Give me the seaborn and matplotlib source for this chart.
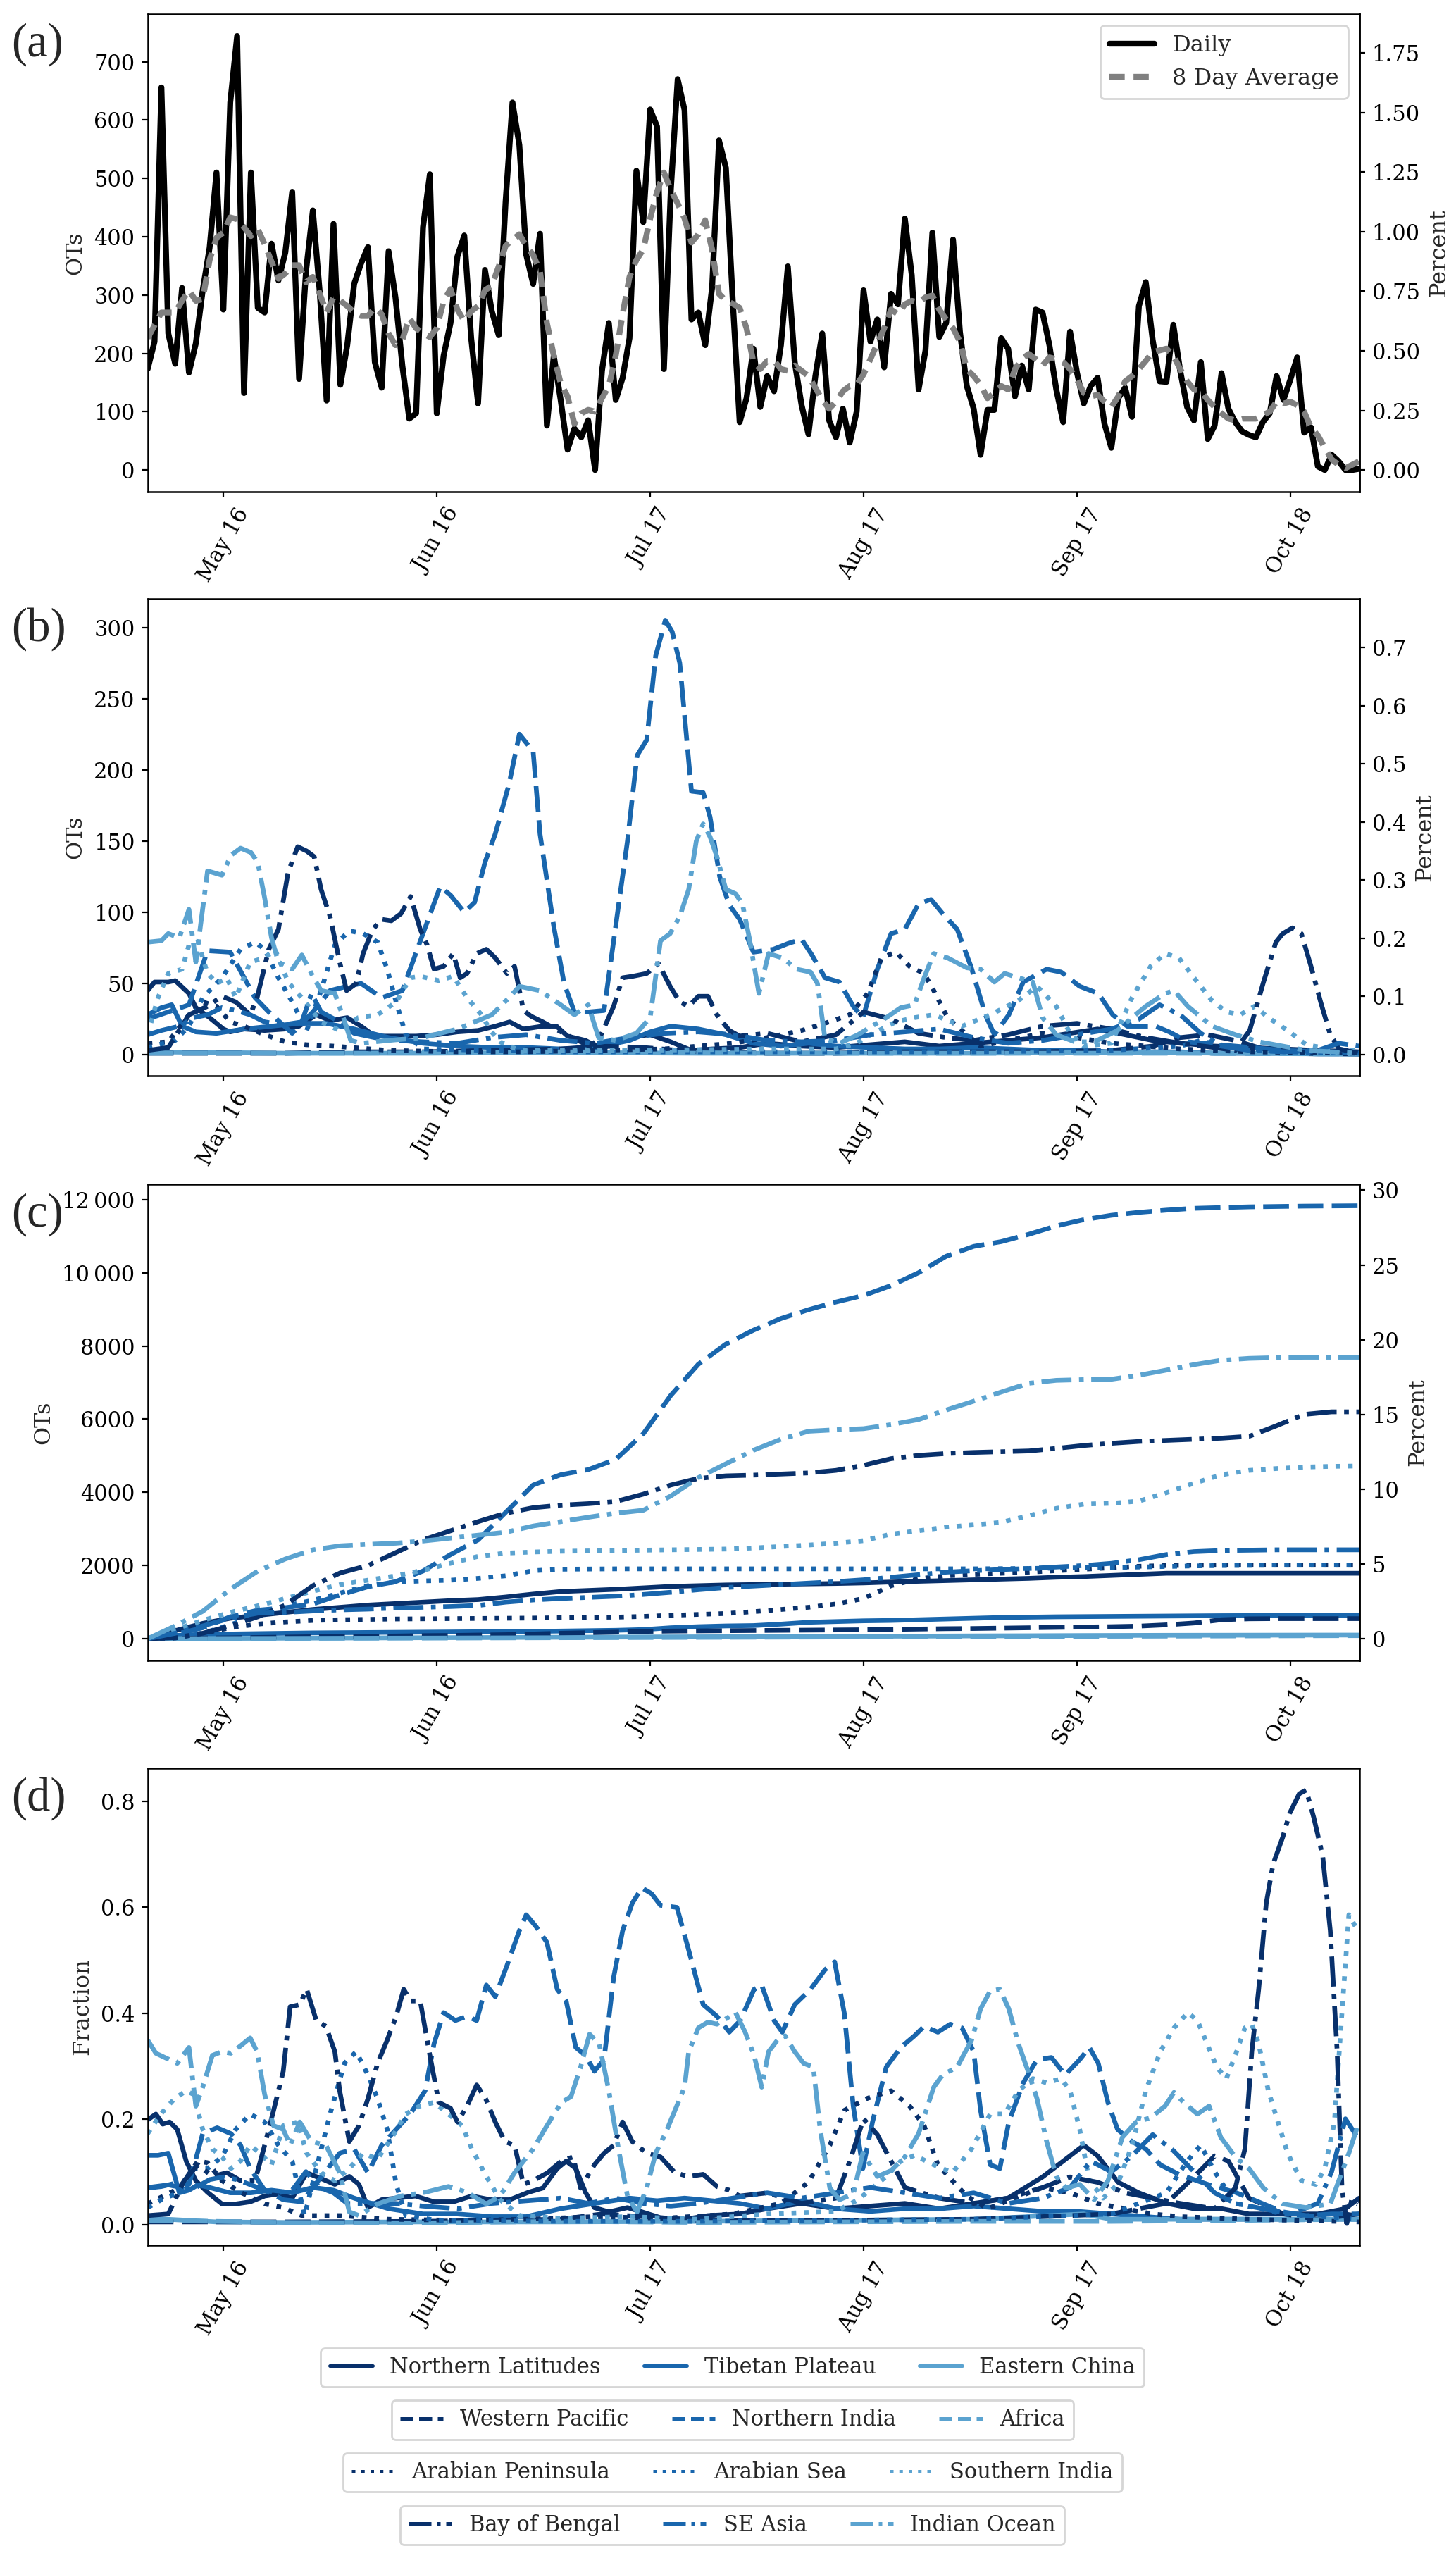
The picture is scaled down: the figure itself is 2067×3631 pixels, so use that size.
import numpy as np
import pandas as pd
import matplotlib
matplotlib.use("Agg")
import matplotlib.pyplot as plt
import matplotlib.dates as mdates
from matplotlib.ticker import FuncFormatter
from matplotlib.lines import Line2D
import seaborn as sns

START = pd.Timestamp("2019-05-05")
TOTAL_OTS = 40850  # all OTs of the season, used for the percent axes

regions = ["Northern Latitudes", "Tibetan Plateau", "Eastern China",
           "Western Pacific", "Northern India", "Africa",
           "Arabian Peninsula", "Arabian Sea", "Southern India",
           "Bay of Bengal", "SE Asia", "Indian Ocean"]
shades = ["#08306b", "#1966ad", "#5ba3d0"]
# line styles in the panels (longer dashes) and in the legend (default ones)
styles = ["-", (0, (5.5, 1.8)), (0, (1, 1.65)), (0, (6.4, 1.6, 1, 1.6))]
legend_styles = ["-", "--", ":", "-."]

tick_dates = ["2019-05-16", "2019-06-16", "2019-07-17",
              "2019-08-17", "2019-09-17", "2019-10-18"]

# (a) daily OTs and 8 day average, one value per day from May 5
daily = [173, 220, 656, 234, 182, 312, 167, 217, 308, 381,
         510, 275, 630, 744, 132, 510, 278, 270, 388, 325,
         373, 477, 156, 340, 445, 305, 119, 422, 146, 214,
         319, 354, 382, 185, 141, 375, 296, 179, 88, 97,
         416, 507, 97, 196, 252, 366, 402, 226, 114, 343,
         272, 231, 460, 630, 557, 369, 319, 405, 76, 196,
         120, 35, 71, 56, 85, 0, 170, 252, 120, 158,
         226, 513, 425, 618, 589, 173, 480, 670, 617, 258,
         270, 214, 313, 565, 518, 290,
         82, 123, 208, 108, 161, 135, 214, 349, 185, 111,
         61, 161, 234, 85, 56, 105, 47, 100, 308, 220,
         258, 176, 302, 284, 431, 334, 138, 205, 407, 228,
         252, 395, 237, 144, 105, 26, 103, 103, 226, 208,
         126, 179, 138, 275, 270, 214, 138, 82, 237, 167,
         114, 144, 158, 79, 38, 123, 141, 91, 281, 322,
         223, 152, 151, 249, 170, 108, 85, 185, 53, 76,
         166, 105, 82, 66, 60, 56, 82, 97, 161, 120,
         155, 193, 64, 73, 6, 0, 26, 15, 0, 0, 2]
avg8 = [226, 248, 270, 270, 270, 290, 308, 290, 293, 360,
        398, 407, 433, 430, 416, 401, 413, 387, 357, 328,
        337, 351, 351, 322, 331, 302, 270, 296, 290, 281,
        270, 264, 264, 278, 267, 234, 214, 223, 261, 243,
        234, 228, 243, 290, 310, 275, 255, 272, 281, 308,
        316, 349, 384, 395, 404, 384, 369, 340, 252, 196,
        149, 126, 79, 97, 103, 100, 123, 144, 196, 267,
        331, 360, 378, 431, 477, 510, 480, 457, 431, 390,
        404, 428, 378, 302, 290, 285,
        278, 243, 185, 173, 187, 187, 173, 170, 179, 170,
        161, 141, 120, 105, 117, 135, 144, 146, 164, 190,
        217, 243, 275, 267, 284, 290, 287, 296, 299, 275,
        258, 243, 220, 173, 161, 146, 123, 132, 144, 138,
        173, 190, 199, 190, 179, 193, 190, 185, 173, 155,
        132, 126, 129, 117, 108, 126, 152, 161, 173, 187,
        202, 205, 208, 196, 173, 152, 138, 135, 120, 108,
        97, 88, 85, 88, 88, 88, 94, 100, 117, 114,
        117, 111, 100, 73, 59, 38, 18, 9, 3, 9, 15]

# (b) smoothed OTs per region: (day after May 5, OTs)
b_nl = [(0, 45), (1, 51), (3, 51), (4, 52), (6, 43), (7, 33), (9, 26), (11, 18), (12, 16), (14, 18),
        (17, 17), (20, 18), (22, 20), (24.5, 28), (26.5, 24), (29, 26), (31, 20), (33, 13), (35, 13),
        (39, 13), (42, 14), (45, 16), (48, 17), (50.5, 20), (52.6, 23), (54.6, 18), (57.4, 20),
        (59.4, 20), (61, 13), (63.6, 10), (66, 4), (68, 9), (71, 13), (73, 14), (76, 9), (79, 3),
        (82, 4), (86, 5), (90, 8), (95, 6), (100, 5), (105, 7), (110, 9), (115, 6), (120, 8),
        (125, 10), (130, 12), (134, 15), (138, 18), (142, 14), (146, 10), (150, 8), (155, 6),
        (160, 5), (165, 4), (170, 3), (176, 2)]
b_tp = [(0, 28), (2, 33), (3.5, 35), (5, 20), (7, 16), (10, 15), (14, 18), (18, 20), (22, 22),
        (26, 22), (30, 18), (35, 12), (40, 8), (45, 6), (50, 5), (55, 5), (60, 4), (65, 5), (70, 10),
        (73, 16), (76, 20), (80, 18), (84, 14), (88, 8), (92, 6), (96, 8), (100, 6), (105, 5),
        (110, 4), (115, 4), (120, 5), (125, 4), (130, 3), (135, 3), (140, 2), (145, 2), (150, 2),
        (155, 1), (160, 1), (165, 1), (170, 0.5), (176, 0.5)]
b_ec = [(0, 2), (10, 1.5), (20, 1), (40, 1), (60, 1.5), (80, 1), (100, 1), (120, 1), (140, 1.5),
        (160, 1), (176, 0.5)]
b_wp = [(0, 1), (10, 1), (20, 1), (30, 2), (40, 2), (50, 3), (60, 4), (66, 6), (72, 5), (80, 2),
        (90, 1), (100, 1), (110, 2), (120, 2), (130, 2), (140, 3), (146, 6), (150, 12), (154, 14),
        (158, 10), (162, 4), (168, 1), (176, 0.5)]
b_nin = [(0, 25), (3, 30), (6, 35), (8.7, 73), (12, 72), (15.6, 40), (17.6, 30), (21, 15), (24, 30),
         (26.5, 45), (29, 48), (31, 50), (34, 40), (37, 45), (40, 85), (42.5, 118), (44, 112),
         (46, 100), (47.5, 107), (49, 135), (50.5, 155), (52.5, 190), (54, 225), (56, 213),
         (57, 155), (59, 90), (60.5, 50), (62, 30), (64, 30), (66.3, 31), (67.7, 80), (69.7, 150),
         (71.1, 210), (72.5, 221), (73.8, 280), (75.2, 305), (76.2, 297), (77.3, 275), (79, 185),
         (80.7, 184), (81.7, 167), (83.1, 125), (84.5, 105), (86, 95), (88, 72), (90.9, 74),
         (93, 78), (95, 81), (96.5, 70), (98.4, 54), (100.5, 51), (102.5, 34), (103.9, 26),
         (106, 60), (108, 85), (110, 88), (112, 106), (113.8, 109), (115.5, 99), (117.6, 88),
         (119.6, 62), (121.7, 28), (123, 14), (125.1, 28), (127.2, 51), (130.6, 60), (132.7, 58),
         (135.4, 48), (138.1, 43), (140.2, 28), (142.3, 20), (146.4, 20), (148.4, 16), (151.1, 9),
         (158, 6), (164.9, 3), (176, 1)]
b_af = [(0, 1), (30, 1), (60, 2), (90, 1), (120, 1), (150, 1), (176, 0.5)]
b_ap = [(0, 8), (3, 9), (6, 28), (8, 37), (10, 34), (12, 23), (14, 20), (17, 14), (20, 9), (23, 7),
        (27, 6), (35, 3), (45, 2), (55, 2), (65, 3), (75, 4), (85, 8), (90, 12), (95, 17), (99, 23),
        (102, 28), (104.6, 43), (106.6, 68), (108.7, 72), (110.7, 62), (112.8, 57), (114.2, 45),
        (116.2, 26), (118.3, 17), (121, 6), (125, 10), (130, 15), (135, 12), (140, 8), (145, 6),
        (150, 4), (160, 2), (176, 1)]
b_as = [(0, 5), (4, 10), (6, 20), (8, 40), (10.8, 54), (13.5, 74), (15.6, 79), (17, 74), (19, 54),
        (21, 37), (23.1, 17), (25.2, 45), (27.2, 77), (29.3, 87), (31.3, 85), (33.4, 79), (34.8, 60),
        (36.1, 37), (37.5, 14), (40, 4), (50, 3), (60, 2), (70, 2), (80, 2), (100, 2), (120, 2),
        (140, 3), (150, 6), (153, 10), (156, 6), (165, 2), (176, 1)]
b_si = [(0, 14), (1.5, 40), (3, 57), (5, 60), (6, 77), (7.3, 79), (8.7, 57), (10.1, 50), (11.5, 54),
        (12.8, 40), (14.9, 65), (17, 68), (18.5, 74), (20.4, 51), (22.4, 40), (25.2, 23), (27.9, 17),
        (30.6, 26), (33.4, 28), (36.1, 37), (38.2, 54), (39.6, 55), (42.3, 52), (44.4, 55),
        (46.4, 40), (48.5, 28), (49.8, 17), (51.2, 9), (54, 3), (70, 3), (90, 4), (100, 4), (103, 8),
        (105, 14), (108.7, 23), (111.4, 26), (114.2, 28), (118.3, 20), (122.4, 28), (126.5, 38),
        (129.2, 48), (132, 34), (134, 15), (136, 6), (140, 8), (143, 40), (145.7, 62), (147.8, 71),
        (149.8, 68), (152, 54), (154.6, 38), (156.7, 30), (158.7, 28), (160.8, 34), (162.8, 26),
        (165.6, 17), (168.3, 7), (171.7, 4), (176, 3)]
b_bob = [(0, 3), (3, 5), (6, 28), (8.7, 34), (10.8, 41), (12.8, 37), (14.9, 28), (15.9, 40),
         (17.6, 74), (19, 88), (20.4, 128), (21.8, 146), (23.1, 143), (24.2, 139), (25.2, 116),
         (26.5, 97), (27.9, 65), (28.9, 45), (30.3, 50), (31.3, 71), (32.7, 88), (34, 95),
         (35.4, 94), (36.8, 99), (38.2, 111), (39.6, 88), (40.6, 77), (41.6, 60), (43, 62),
         (44.4, 71), (45.4, 54), (46.4, 57), (47.8, 71), (49.2, 74), (50.5, 68), (52.2, 57),
         (53.3, 62), (54.6, 31), (55.7, 27), (57.4, 23), (60.8, 14), (64.2, 6), (65.6, 11),
         (67.7, 34), (69, 54), (70.4, 55), (72.5, 57), (74.2, 64), (75.9, 48), (77.3, 37),
         (78.6, 34), (80, 41), (81.4, 41), (82.7, 28), (84.5, 17), (86, 13), (90, 15), (95, 9),
         (100, 14), (104, 30), (108, 25), (112, 15), (116, 12), (120, 10), (125, 14), (130, 20),
         (135, 22), (140, 18), (145, 12), (150, 8), (155, 5), (158, 3), (160.1, 17), (162.1, 51),
         (163.9, 79), (164.9, 85), (166.3, 89), (167.6, 85), (169, 62), (170.4, 37), (171.8, 14),
         (173.1, 4), (176, 1)]
b_sea = [(0, 14), (2, 17), (4.6, 20), (6.7, 26), (8.7, 28), (10.8, 33), (12.8, 31), (14.9, 28),
         (17, 23), (19.7, 21), (22.4, 23), (23.8, 43), (25.2, 30), (27.9, 23), (30, 15), (33, 12),
         (36, 10), (40, 9), (45, 8), (50, 12), (55, 14), (60, 10), (65, 8), (70, 12), (75, 15),
         (80, 16), (85, 14), (90, 10), (95, 9), (100, 10), (105, 14), (110, 16), (115, 18), (120, 12),
         (125, 8), (130, 10), (135, 14), (140, 18), (144, 25), (147, 35), (150, 28), (153, 15),
         (156, 6), (160, 3), (165, 2), (170, 3), (173, 8), (176, 6)]
b_io = [(0, 79), (2, 80), (3, 85), (4.6, 82), (6, 102), (7, 65), (8.7, 129), (10.8, 126), (12.1, 140),
        (13.5, 145), (15, 142), (16, 135), (17, 110), (18, 82), (19, 65), (21, 60), (22.4, 70),
        (24, 55), (25.2, 45), (27.2, 43), (28.5, 25), (29.5, 10), (31, 8), (35, 10), (40, 12),
        (45, 18), (50, 28), (52.5, 40), (54, 48), (57, 45), (60, 35), (62, 28), (64, 35), (65.5, 12),
        (68, 10), (71, 15), (73, 26), (74.5, 80), (75.9, 85), (77.3, 97), (78.6, 116), (79.7, 150),
        (80.7, 162), (81.7, 153), (82.7, 139), (84, 116), (85.4, 113), (86.4, 106), (87.4, 82),
        (88.8, 43), (90.2, 71), (92.2, 68), (94.3, 60), (96.3, 58), (97.3, 50), (98.4, 11),
        (100.5, 8), (103.2, 14), (105.2, 20), (107.3, 26), (109.4, 33), (111.4, 35), (112.8, 54),
        (114.2, 71), (116.2, 68), (119, 61), (121, 60), (123, 51), (124.5, 57), (126.5, 54),
        (128.6, 51), (130, 26), (132, 14), (134.7, 9), (137.5, 9), (140.9, 17), (143, 26), (145, 34),
        (147.8, 43), (149.1, 45), (151.1, 34), (154.6, 20), (158, 14), (161.5, 9), (168.3, 3),
        (176, 1)]

# (c) cumulative OTs per region, every 4 days from May 5
c_day = [0, 4, 8, 12, 16, 20, 24, 28, 32, 36, 40, 44, 48, 52, 56, 60, 64, 68, 72, 76, 80, 84, 88,
         92, 96, 100, 104, 108, 112, 116, 120, 124, 128, 132, 136, 140, 144, 148, 152, 156, 160,
         164, 168, 172, 176]
c_nl = [0, 220, 420, 560, 640, 720, 800, 860, 920, 960, 1000, 1040, 1070, 1140, 1220, 1290, 1320,
        1350, 1390, 1430, 1450, 1470, 1480, 1490, 1500, 1510, 1525, 1550, 1570, 1590, 1610, 1630,
        1650, 1680, 1700, 1730, 1760, 1790, 1790, 1790, 1790, 1790, 1790, 1790, 1790]
c_tp = [0, 90, 120, 130, 140, 150, 160, 165, 170, 175, 180, 185, 190, 195, 200, 210, 220, 230, 250,
        300, 330, 350, 360, 400, 450, 470, 490, 500, 520, 540, 560, 580, 590, 600, 605, 610, 615,
        620, 625, 630, 632, 635, 637, 640, 640]
c_ec = [0, 5, 8, 10, 12, 15, 18, 20, 22, 25, 28, 30, 32, 35, 38, 40, 42, 45, 48, 50, 52, 55, 58, 60,
        62, 65, 68, 70, 72, 75, 78, 80, 82, 85, 88, 90, 92, 94, 95, 96, 97, 98, 99, 100, 100]
c_wp = [0, 10, 20, 25, 35, 45, 55, 60, 70, 75, 85, 90, 100, 110, 130, 150, 165, 180, 200, 210, 215,
        220, 225, 230, 235, 240, 245, 255, 265, 275, 280, 290, 300, 310, 320, 330, 345, 380, 430,
        520, 545, 550, 550, 550, 550]
c_nin = [0, 120, 300, 600, 780, 850, 950, 1200, 1420, 1560, 1850, 2300, 2700, 3450, 4200, 4480,
         4620, 4900, 5600, 6650, 7500, 8050, 8430, 8750, 8990, 9200, 9380, 9650, 10000, 10450,
         10720, 10850, 11050, 11280, 11450, 11570, 11650, 11710, 11760, 11780, 11800, 11810, 11820,
         11825, 11830]
c_af = [0, 3, 5, 7, 9, 10, 12, 14, 15, 17, 18, 20, 22, 24, 26, 28, 30, 32, 34, 36, 38, 40, 42, 44,
        46, 48, 50, 52, 54, 56, 58, 60, 62, 64, 66, 68, 70, 72, 74, 76, 78, 80, 82, 84, 85]
c_ap = [0, 20, 150, 300, 400, 460, 500, 520, 530, 540, 545, 550, 555, 560, 565, 575, 585, 590, 610,
        640, 665, 690, 740, 800, 860, 950, 1100, 1450, 1640, 1720, 1760, 1790, 1820, 1860, 1900,
        1940, 1980, 2000, 2005, 2010, 2010, 2010, 2010, 2010, 2010]
c_as = [0, 40, 150, 380, 650, 900, 1050, 1250, 1450, 1550, 1580, 1600, 1650, 1720, 1860, 1900,
        1905, 1910, 1910, 1910, 1910, 1910, 1910, 1910, 1910, 1910, 1910, 1910, 1910, 1910, 1910,
        1915, 1920, 1930, 1940, 1950, 1960, 1975, 1990, 2000, 2005, 2010, 2010, 2010, 2010]
c_si = [0, 250, 500, 720, 900, 1100, 1300, 1480, 1600, 1720, 1870, 2060, 2250, 2340, 2370, 2390,
        2400, 2410, 2420, 2430, 2440, 2450, 2480, 2520, 2560, 2610, 2680, 2860, 2950, 3050, 3110,
        3180, 3360, 3560, 3680, 3700, 3760, 3990, 4250, 4480, 4600, 4650, 4690, 4710, 4720]
c_bob = [0, 30, 150, 350, 600, 920, 1450, 1800, 2000, 2350, 2700, 2950, 3200, 3430, 3580, 3650,
         3690, 3750, 3950, 4200, 4380, 4450, 4470, 4500, 4530, 4600, 4740, 4920, 5010, 5060, 5090,
         5110, 5130, 5200, 5280, 5340, 5390, 5420, 5450, 5480, 5530, 5820, 6130, 6200, 6200]
c_sea = [0, 150, 350, 560, 700, 720, 760, 790, 810, 840, 860, 880, 910, 1000, 1060, 1100, 1130,
         1160, 1210, 1270, 1340, 1400, 1440, 1480, 1520, 1560, 1610, 1680, 1750, 1820, 1860, 1890,
         1920, 1960, 2000, 2060, 2160, 2300, 2380, 2410, 2420, 2430, 2430, 2430, 2430]
c_io = [0, 350, 750, 1350, 1850, 2180, 2430, 2540, 2580, 2610, 2670, 2750, 2830, 2910, 3080, 3200,
        3320, 3430, 3510, 3900, 4400, 4780, 5150, 5450, 5670, 5710, 5740, 5850, 5990, 6250, 6490,
        6740, 6980, 7060, 7080, 7090, 7200, 7340, 7490, 7610, 7660, 7680, 7690, 7690, 7690]

# (d) fraction of all OTs per region: (day after May 5, fraction)
d_nl = [(0, 0.198), (1.2, 0.209), (2.2, 0.19), (3.2, 0.194), (4.3, 0.18), (5.6, 0.12), (7, 0.083),
        (8.7, 0.061), (10.8, 0.039), (12.8, 0.039), (14.9, 0.043), (17, 0.054), (19, 0.058),
        (21, 0.05), (23.1, 0.098), (25.2, 0.087), (27.2, 0.076), (29.3, 0.091), (30.7, 0.076),
        (32, 0.032), (34, 0.047), (36.1, 0.05), (38.9, 0.054), (41.6, 0.043), (44.4, 0.043),
        (47.1, 0.054), (49.8, 0.047), (52.6, 0.047), (55.3, 0.061), (57.4, 0.069), (59.5, 0.106),
        (60.8, 0.12), (62.2, 0.106), (63.6, 0.061), (64.9, 0.032), (67, 0.024), (69.7, 0.032),
        (71.8, 0.024), (74.5, 0.013), (78, 0.01), (81.4, 0.017), (86, 0.02), (90, 0.03), (95, 0.04),
        (100, 0.03), (105, 0.035), (110, 0.04), (115, 0.03), (120, 0.04), (125, 0.05), (130, 0.09),
        (133, 0.12), (136, 0.15), (138, 0.13), (141, 0.08), (144, 0.06), (148, 0.04), (152, 0.03),
        (156, 0.03), (160, 0.02), (165, 0.02), (170, 0.02), (174, 0.03), (176, 0.05)]
d_tp = [(0, 0.131), (1.5, 0.131), (3, 0.135), (4.6, 0.06), (6, 0.065), (7.3, 0.075), (9, 0.07),
        (12, 0.06), (15, 0.06), (18, 0.065), (21, 0.06), (24, 0.07), (27, 0.065), (30, 0.05),
        (35, 0.03), (40, 0.02), (45, 0.02), (50, 0.015), (55, 0.015), (60, 0.03), (65, 0.04),
        (70, 0.05), (74, 0.045), (78, 0.05), (82, 0.045), (86, 0.04), (90, 0.03), (95, 0.045),
        (100, 0.03), (105, 0.025), (110, 0.03), (115, 0.03), (120, 0.035), (125, 0.03), (130, 0.025),
        (135, 0.025), (140, 0.02), (145, 0.015), (150, 0.01), (160, 0.01), (170, 0.01), (176, 0.01)]
d_ec = [(0, 0.012), (10, 0.005), (20, 0.004), (40, 0.005), (60, 0.005), (80, 0.006), (100, 0.008),
        (120, 0.01), (136, 0.02), (140, 0.01), (160, 0.01), (176, 0.01)]
d_wp = [(0, 0.005), (20, 0.005), (40, 0.006), (60, 0.01), (66, 0.02), (72, 0.015), (80, 0.008),
        (100, 0.008), (120, 0.01), (140, 0.02), (148, 0.04), (152, 0.09), (155, 0.13), (157, 0.12),
        (160, 0.05), (165, 0.02), (170, 0.01), (176, 0.02)]
d_nin = [(0, 0.069), (2, 0.072), (4.6, 0.08), (6, 0.076), (8, 0.172), (10.1, 0.183), (12.1, 0.172),
         (13.5, 0.15), (14.9, 0.106), (17, 0.065), (19.7, 0.047), (22.4, 0.043), (25.2, 0.09),
         (27.9, 0.135), (30, 0.143), (32, 0.098), (34, 0.15), (36.1, 0.18), (38.2, 0.21),
         (40.3, 0.253), (41.6, 0.342), (43, 0.401), (44.7, 0.386), (46.4, 0.394), (47.8, 0.386),
         (49.2, 0.453), (50.5, 0.431), (52.2, 0.49), (54, 0.556), (55, 0.586), (56.4, 0.564),
         (58, 0.534), (59.5, 0.445), (60.8, 0.423), (62.2, 0.335), (63.6, 0.32), (64.9, 0.29),
         (66.3, 0.312), (67.7, 0.468), (69, 0.556), (70.4, 0.608), (71.8, 0.637), (73.2, 0.626),
         (74.5, 0.604), (76.9, 0.6), (78.6, 0.519), (80.7, 0.416), (82.7, 0.394), (84.5, 0.364),
         (86.1, 0.386), (88.1, 0.445), (89.2, 0.453), (91, 0.386), (92.2, 0.364), (94, 0.416),
         (96.3, 0.445), (98.4, 0.482), (99.8, 0.497), (101.2, 0.4), (102.5, 0.224), (103.9, 0.106),
         (105.3, 0.194), (107.3, 0.298), (109.4, 0.335), (111.4, 0.357), (112.8, 0.375),
         (114.8, 0.364), (116.6, 0.379), (118.3, 0.372), (120, 0.327), (121, 0.216), (122.4, 0.113),
         (123.8, 0.106), (125.1, 0.194), (127.2, 0.268), (129.2, 0.312), (131.3, 0.316),
         (133.3, 0.283), (135.4, 0.312), (136.8, 0.335), (138.1, 0.305), (139.5, 0.231),
         (140.9, 0.18), (143, 0.157), (145, 0.143), (147.1, 0.113), (149.8, 0.095), (154, 0.076),
         (158, 0.061), (162.1, 0.039), (164.9, 0.024), (168.3, 0.017), (172, 0.02), (176, 0.02)]
d_af = [(0, 0.008), (20, 0.004), (40, 0.003), (60, 0.006), (80, 0.004), (100, 0.005), (120, 0.006),
        (140, 0.006), (160, 0.008), (176, 0.01)]
d_ap = [(0, 0.039), (4.6, 0.069), (7.3, 0.12), (8.7, 0.117), (10.8, 0.083), (13.5, 0.061),
        (17, 0.039), (19.7, 0.032), (22.4, 0.017), (28, 0.017), (35, 0.01), (45, 0.008), (55, 0.01),
        (65, 0.015), (75, 0.012), (85, 0.02), (92, 0.04), (96, 0.08), (99.1, 0.15), (101.2, 0.216),
        (104.6, 0.239), (108, 0.253), (110.7, 0.224), (112.8, 0.187), (114.8, 0.113), (116.9, 0.083),
        (119, 0.054), (122, 0.03), (126, 0.05), (130, 0.07), (134, 0.06), (138, 0.04), (142, 0.03),
        (146, 0.02), (150, 0.015), (160, 0.01), (176, 0.005)]
d_as = [(0, 0.032), (2, 0.047), (4.6, 0.061), (6.7, 0.106), (8.7, 0.106), (10.8, 0.128),
        (12.8, 0.18), (14.9, 0.209), (17, 0.194), (19, 0.15), (21, 0.12), (22.8, 0.017),
        (24.5, 0.106), (26.5, 0.209), (28.6, 0.305), (30.3, 0.327), (32, 0.283), (33.4, 0.238),
        (34.8, 0.18), (36.1, 0.076), (37.5, 0.017), (42, 0.008), (60, 0.006), (80, 0.006),
        (100, 0.008), (120, 0.01), (140, 0.02), (148, 0.06), (151, 0.12), (153, 0.15), (155, 0.1),
        (158, 0.04), (165, 0.02), (176, 0.01)]
d_si = [(0, 0.172), (1.9, 0.209), (3.9, 0.238), (5.6, 0.253), (6.7, 0.246), (8, 0.18), (9.4, 0.143),
        (10.8, 0.128), (12.1, 0.106), (13.5, 0.12), (14.9, 0.15), (16.3, 0.135), (18, 0.113),
        (19.7, 0.187), (21.8, 0.194), (23.1, 0.135), (25.2, 0.098), (27.2, 0.083), (29.3, 0.106),
        (31.3, 0.135), (33.4, 0.124), (35.5, 0.165), (37.5, 0.209), (39.5, 0.224), (41.6, 0.231),
        (43.7, 0.209), (45.7, 0.187), (47.1, 0.143), (49.2, 0.091), (51.2, 0.047), (54, 0.017),
        (60, 0.012), (70, 0.015), (80, 0.01), (90, 0.02), (100, 0.025), (103.2, 0.047),
        (107.3, 0.091), (109.4, 0.12), (111.4, 0.131), (114.2, 0.113), (116.9, 0.098),
        (119.7, 0.143), (122.4, 0.209), (124.5, 0.209), (126.5, 0.253), (128.6, 0.276),
        (130.6, 0.268), (132.7, 0.276), (134, 0.253), (135.4, 0.18), (136.8, 0.083), (138.8, 0.05),
        (140.9, 0.076), (143, 0.15), (145, 0.253), (147.1, 0.327), (149.1, 0.372), (151.1, 0.401),
        (152.5, 0.386), (153.9, 0.342), (155.3, 0.298), (156.7, 0.276), (158, 0.32), (159.4, 0.372),
        (160.4, 0.379), (161.4, 0.342), (162.8, 0.253), (164.2, 0.194), (165.6, 0.135),
        (167.6, 0.083), (169.7, 0.076), (171, 0.106), (172.4, 0.194), (173.5, 0.401),
        (174.5, 0.586), (175.8, 0.556)]
d_bob = [(0, 0.017), (3, 0.02), (5.3, 0.083), (7.3, 0.113), (9.4, 0.091), (11.5, 0.098),
         (13.5, 0.083), (15.6, 0.083), (17, 0.15), (18.3, 0.216), (19.7, 0.29), (20.7, 0.412),
         (22.1, 0.416), (23.1, 0.445), (24.5, 0.386), (25.9, 0.375), (27.2, 0.327), (27.9, 0.253),
         (29.3, 0.157), (30.7, 0.187), (32, 0.238), (33.4, 0.305), (34.8, 0.349), (36.1, 0.394),
         (37.2, 0.445), (38.2, 0.423), (39.6, 0.423), (40.9, 0.327), (42.3, 0.231), (44, 0.22),
         (45, 0.194), (46.4, 0.224), (47.8, 0.264), (49.1, 0.238), (50.5, 0.194), (51.9, 0.157),
         (53.3, 0.15), (54.6, 0.076), (56, 0.083), (58.1, 0.098), (60.1, 0.12), (61.8, 0.128),
         (62.9, 0.069), (64.9, 0.113), (66.3, 0.135), (67.7, 0.15), (69, 0.194), (70.4, 0.157),
         (72.5, 0.135), (74.5, 0.128), (76.6, 0.098), (78.6, 0.091), (80.7, 0.095), (82.7, 0.072),
         (84.5, 0.065), (86, 0.054), (90, 0.06), (95, 0.04), (100, 0.05), (102, 0.12), (104, 0.2),
         (106, 0.17), (108, 0.12), (110, 0.07), (115, 0.05), (120, 0.04), (125, 0.05), (130, 0.07),
         (134, 0.09), (138, 0.08), (142, 0.06), (146, 0.05), (150, 0.04), (155, 0.03), (158, 0.069),
         (159.4, 0.143), (160.4, 0.327), (161.4, 0.445), (162.5, 0.608), (163.5, 0.682),
         (164.9, 0.733), (165.9, 0.778), (167.3, 0.815), (168.3, 0.822), (169.4, 0.77),
         (170.7, 0.697), (171.8, 0.556), (172.8, 0.327), (173.5, 0.069), (174.2, 0.002),
         (174.9, 0.047), (175.8, 0.039)]
d_sea = [(0, 0.07), (3, 0.075), (5, 0.07), (7, 0.07), (9, 0.085), (11, 0.09), (13, 0.085), (15, 0.075),
         (17, 0.065), (19, 0.06), (21, 0.065), (23, 0.1), (25, 0.07), (27, 0.06), (29, 0.04),
         (32, 0.04), (36, 0.04), (40, 0.035), (45, 0.03), (50, 0.04), (55, 0.045), (60, 0.05),
         (64, 0.04), (68, 0.05), (72, 0.04), (76, 0.035), (80, 0.04), (85, 0.05), (90, 0.06),
         (95, 0.05), (100, 0.06), (105, 0.07), (110, 0.06), (115, 0.05), (120, 0.06), (125, 0.04),
         (130, 0.05), (134, 0.07), (137, 0.12), (140, 0.1), (143, 0.13), (146, 0.17), (149, 0.14),
         (152, 0.1), (155, 0.06), (158, 0.04), (162, 0.03), (166, 0.02), (170, 0.04), (172, 0.1),
         (174, 0.2), (176, 0.16)]
d_io = [(0, 0.349), (1.2, 0.324), (2.5, 0.316), (4.3, 0.305), (6, 0.335), (7, 0.224), (8, 0.26),
        (9.4, 0.32), (10.8, 0.327), (12.1, 0.324), (13.5, 0.338), (14.9, 0.353), (15.9, 0.327),
        (17, 0.246), (18.3, 0.187), (19.7, 0.18), (20.7, 0.15), (22.1, 0.194), (23.8, 0.157),
        (25.9, 0.15), (27.9, 0.098), (29.3, 0.024), (30.7, 0.017), (33.4, 0.039), (36.8, 0.054),
        (40.3, 0.061), (43.7, 0.072), (46.4, 0.061), (49.2, 0.039), (51.2, 0.054), (53.3, 0.098),
        (56, 0.143), (58, 0.187), (60.1, 0.231), (61.5, 0.242), (62.9, 0.298), (64.2, 0.36),
        (65.6, 0.342), (67, 0.253), (68.4, 0.143), (69.7, 0.054), (71.1, 0.024), (72.5, 0.069),
        (73.8, 0.135), (75.2, 0.172), (76.6, 0.216), (78, 0.26), (78.6, 0.327), (80, 0.372),
        (81.4, 0.383), (82.7, 0.379), (84.1, 0.39), (85.4, 0.401), (86.8, 0.364), (88.1, 0.32),
        (89.2, 0.26), (90.2, 0.327), (91.5, 0.349), (92.6, 0.357), (94, 0.327), (95.3, 0.305),
        (96.7, 0.298), (97.7, 0.18), (99.1, 0.069), (100.5, 0.047), (102.5, 0.058), (103.9, 0.135),
        (106, 0.091), (108, 0.102), (110, 0.128), (112, 0.172), (114.2, 0.26), (115.5, 0.283),
        (117.6, 0.298), (119.7, 0.349), (121, 0.408), (122.4, 0.442), (123.8, 0.445),
        (125.1, 0.408), (126.5, 0.342), (127.9, 0.29), (129.2, 0.238), (130.6, 0.157), (132, 0.091),
        (133.4, 0.069), (135.4, 0.076), (137.5, 0.047), (139.5, 0.083), (141.6, 0.165),
        (143.6, 0.194), (145.7, 0.202), (147.8, 0.224), (149.1, 0.25), (150.5, 0.231),
        (152.5, 0.209), (154.2, 0.224), (155.9, 0.165), (158, 0.128), (160, 0.106), (162.1, 0.069),
        (164.9, 0.039), (168.3, 0.032), (171.8, 0.039), (174.5, 0.135), (175.8, 0.187)]

b_series = [b_nl, b_tp, b_ec, b_wp, b_nin, b_af, b_ap, b_as, b_si, b_bob, b_sea, b_io]
c_series = [c_nl, c_tp, c_ec, c_wp, c_nin, c_af, c_ap, c_as, c_si, c_bob, c_sea, c_io]
d_series = [d_nl, d_tp, d_ec, d_wp, d_nin, d_af, d_ap, d_as, d_si, d_bob, d_sea, d_io]

sns.set_theme(style="ticks")
plt.rcParams["font.family"] = ["DejaVu Serif"]
plt.rcParams.update({
    "axes.edgecolor": "black", "axes.linewidth": 0.9,
    "xtick.color": "black", "ytick.color": "black",
    "xtick.major.size": 3.0, "ytick.major.size": 3.0,
    "xtick.major.width": 0.8, "ytick.major.width": 0.8,
    "xtick.labelsize": 11, "ytick.labelsize": 11,
    "axes.labelsize": 11.5, "legend.fontsize": 11,
})


def to_dates(days):
    return START + pd.to_timedelta(np.asarray(days, dtype=float), unit="D")


def to_pct(v):
    return v / TOTAL_OTS * 100


def to_ots(p):
    return p * TOTAL_OTS / 100


def ots_label(v, pos):
    if abs(v) >= 10000:
        return f"{v:,.0f}".replace(",", "\u2009")
    return f"{v:.0f}"


fig = plt.figure(figsize=(2067 / 200, 3631 / 200), dpi=200)
boxes = [[0.1014, 0.8078, 0.8321, 0.1866],
         [0.1014, 0.5795, 0.8321, 0.1865],
         [0.1014, 0.3509, 0.8321, 0.1862],
         [0.1014, 0.1223, 0.8321, 0.1864]]
axes = [fig.add_axes(b) for b in boxes]
ax_a, ax_b, ax_c, ax_d = axes

# (a) daily total
dates = pd.date_range(START, periods=len(daily), freq="D")
sns.lineplot(x=dates, y=daily, ax=ax_a, color="black", linewidth=3.0, label="Daily")
sns.lineplot(x=dates, y=avg8, ax=ax_a, color="gray", linewidth=3.0,
             linestyle=(0, (2.6, 1.5)), label="8 Day Average")
ax_a.legend(loc="upper right", fontsize=11.5)

# (b), (c), (d) per region
for i in range(len(regions)):
    col = shades[i % 3]
    ls = styles[i // 3]
    days, vals = zip(*b_series[i])
    sns.lineplot(x=to_dates(days), y=list(vals), ax=ax_b, color=col, linestyle=ls, linewidth=2.4)
    sns.lineplot(x=to_dates(c_day), y=c_series[i], ax=ax_c, color=col, linestyle=ls, linewidth=2.4)
    days, vals = zip(*d_series[i])
    sns.lineplot(x=to_dates(days), y=list(vals), ax=ax_d, color=col, linestyle=ls, linewidth=2.4)

for ax in (ax_b, ax_c, ax_d):
    if ax.get_legend() is not None:
        ax.get_legend().remove()

end = START + pd.Timedelta(days=len(daily) - 1)
ticks = pd.to_datetime(tick_dates)
for ax, lab in zip(axes, ["(a)", "(b)", "(c)", "(d)"]):
    ax.set_xlim(START, end)
    ax.set_xticks(ticks)
    ax.xaxis.set_major_formatter(mdates.DateFormatter("%b %d"))
    plt.setp(ax.get_xticklabels(), rotation=60)
    ax.set_xlabel(None)
    ax.text(-0.1125, 0.936, lab, transform=ax.transAxes, ha="left", va="center",
            fontsize=24, family=["Liberation Serif", "DejaVu Serif"])

for ax in (ax_a, ax_b, ax_c):
    ax.set_ylabel("OTs")
    sec = ax.secondary_yaxis("right", functions=(to_pct, to_ots))
    sec.set_ylabel("Percent")
ax_c.yaxis.set_major_formatter(FuncFormatter(ots_label))
ax_d.set_ylabel("Fraction")

# legend rows below the last panel, thinner proxy lines
legend_y = [0.0745, 0.0540, 0.0334, 0.0128]
for row in range(4):
    hs = [Line2D([], [], color=shades[k], linestyle=legend_styles[row], linewidth=1.8)
          for k in range(3)]
    fig.legend(hs, regions[row * 3:row * 3 + 3],
               loc="center", bbox_to_anchor=(0.503, legend_y[row]), ncol=3)

fig.savefig("out.png", dpi=200)
